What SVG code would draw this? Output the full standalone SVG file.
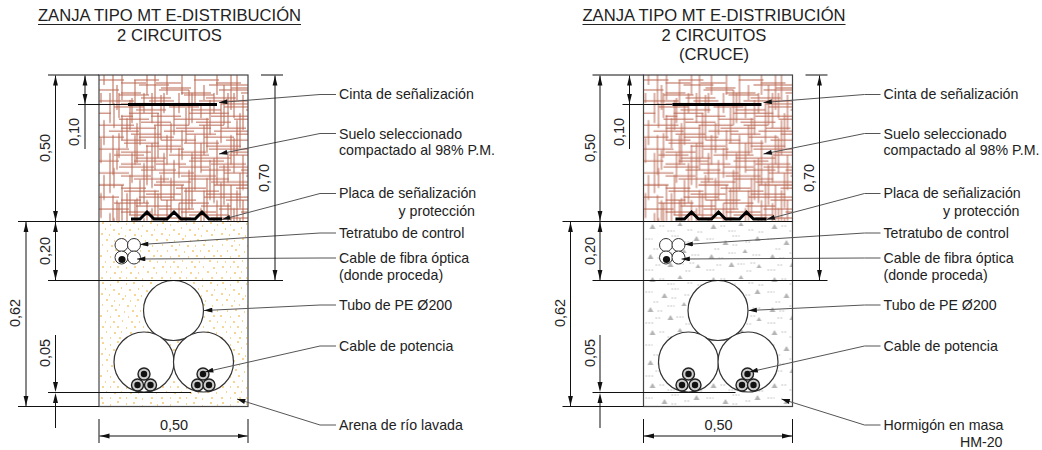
<svg xmlns="http://www.w3.org/2000/svg" width="1042" height="450" viewBox="0 0 1042 450">
<style>
text{font-family:"Liberation Sans",Arial,sans-serif;fill:#222}
.t{font-size:16.6px;text-anchor:middle}
.l{font-size:14.2px}
.r{text-anchor:end}
.d{font-size:14.5px;text-anchor:middle}
.dim{fill:none;stroke:#111;stroke-width:1}
.dima{fill:none;stroke:#111;stroke-width:1;marker-start:url(#da);marker-end:url(#da)}
.lead{fill:none;stroke:#555;stroke-width:1;marker-start:url(#la)}
.box{fill:none;stroke:#444;stroke-width:1.2}
.big{fill:#fff;stroke:#333;stroke-width:1.2}
.tet{fill:#fff;stroke:#333;stroke-width:1}
.cab{fill:#ccc;stroke:#222;stroke-width:1.4}
.core{fill:#111}
.thick{fill:none;stroke:#000;stroke-width:3}
.u{stroke:#222;stroke-width:1}
</style>
<defs>
<marker id="da" viewBox="0 0 10 6" refX="10" refY="3" markerUnits="userSpaceOnUse" markerWidth="10" markerHeight="6" orient="auto-start-reverse"><path d="M10 3L0 .6V5.400z" fill="#111"/></marker>
<marker id="la" viewBox="0 0 10 6" refX="10" refY="3" markerUnits="userSpaceOnUse" markerWidth="10" markerHeight="5" orient="auto-start-reverse"><path d="M10 3L0 0V6z" fill="#111"/></marker>
<path id="hv" fill="none" stroke="#b9644e" stroke-width="1" d="M5 0V10M5 45V70M5 100V125M14 0V30M14 60V100M14 120V146M18 10V35M18 75V95M18 125V146M23 0V25M23 40V65M23 110V146M31 25V55M31 100V140M36 5V30M36 60V90M36 125V146M41 30V70M41 105V130M48 0V20M48 70V110M48 125V146M56 0V30M56 50V95M56 115V140M62 20V65M62 100V125M68 0V20M68 60V90M68 125V146M75 30V60M75 85V125M83 0V20M83 55V85M83 110V146M90 15V50M90 95V135M96 0V30M96 60V115M105 10V25M105 50V80M105 115V146M111 25V60M111 85V125M118 0V20M118 65V110M118 125V146M125 10V50M125 90V130M132 0V35M132 60V90M132 110V146M138 0V25M138 45V80M138 115V146M144 20V55M144 80V115M144 125V146"/>
<path id="hh" fill="none" stroke="#b9644e" stroke-width="1" d="M0 5H25M35 5H60M95 5H120M40 10H70M110 10H149M0 15H20M60 15H90M120 15H149M20 20H50M85 20H115M0 26H35M50 26H75M100 26H149M15 32H45M70 32H100M125 32H149M0 38H12M30 38H60M90 38H130M20 44H50M75 44H110M135 44H149M0 50H35M55 50H90M100 50H125M10 56H40M65 56H95M115 56H149M0 62H25M40 62H75M105 62H135M25 68H60M85 68H120M0 74H30M60 74H85M110 74H149M15 80H45M70 80H110M130 80H149M0 86H20M35 86H65M90 86H125M20 92H55M80 92H110M120 92H149M0 98H30M60 98H95M125 98H149M35 104H70M90 104H130M0 110H25M55 110H85M115 110H149M25 116H60M85 116H120M0 122H20M40 122H75M105 122H149M15 128H50M80 128H110M0 134H30M60 134H95M120 134H149M30 140H70M90 140H130"/>
<pattern id="hatch" patternUnits="userSpaceOnUse" x="99" y="75" width="149" height="146.500">
<use href="#hv"/><use href="#hh"/>
<use href="#hv" transform="translate(-3 18)"/><use href="#hh" transform="translate(22 3)"/>
</pattern>
<path id="sd" fill="none" stroke="#efae2a" stroke-width="1.200" d="M3 2h2M11 4h1M18 1h2M27 3h1M34 2h2M43 5h1M51 2h2M58 4h1M6 8h1M14 9h2M22 7h1M30 9h2M39 8h1M47 10h2M55 9h1M2 13h2M10 14h1M19 13h2M26 15h1M35 14h2M42 15h1M52 14h2M7 19h2M15 20h1M23 18h2M31 20h1M38 19h2M46 20h1M57 19h2M3 24h1M12 25h2M20 24h1M28 25h2M36 25h1M44 24h2M53 25h1M8 30h1M16 29h2M25 31h1M33 30h2M41 30h1M49 30h2M58 30h1M1 35h2M11 36h1M19 35h2M29 36h1M37 35h2M45 36h1M54 35h2M6 41h1M14 41h2M23 40h1M32 41h2M40 41h1M50 40h2M58 41h1M3 46h2M11 46h1M18 46h2M27 47h1M35 46h2M44 46h1M54 47h2M7 51h1M15 52h2M22 51h1M31 52h2M39 52h1M48 51h2M57 52h1M2 57h2M11 57h1M20 57h2M27 57h1M36 57h2M43 58h1M52 57h2"/>
<pattern id="sand" patternUnits="userSpaceOnUse" x="99" y="221" width="60" height="60">
<use href="#sd"/>
</pattern>
<pattern id="conc" patternUnits="userSpaceOnUse" x="99" y="221" width="61" height="53">
<path fill="#b4b4b4" d="M6 8l3-5 3 5zM34 5l2.500-4 2.500 4zM50 20l3-5 3 5zM18 24l3-5 3 5zM38 32l2.500-4 2.500 4zM4 38l3-5 3 5zM24 46l3-5 3 5zM52 47l2.500-4 2.500 4z"/>
<path fill="none" stroke="#b0b0b0" stroke-width="1" stroke-dasharray="1.500 1.500" d="M16 5h5M44 9h6M24 10h7M2 18h7M28 15h7M41 21h5M54 11h5M10 28h5M24 32h7M48 34h8M14 37h6M33 43h7M2 49h8M42 50h5M28 24h6M46 42h5M12 44h6"/>
</pattern>
<g id="pipes">
<circle class="big" cx="173.500" cy="310.500" r="30"/>
<circle class="big" cx="144" cy="362" r="30"/>
<circle class="big" cx="203.500" cy="362" r="30"/>
<circle class="tet" cx="121.500" cy="245" r="6.500"/><circle class="tet" cx="134" cy="245" r="6.500"/><circle class="tet" cx="121.500" cy="257.500" r="6.500"/><circle class="tet" cx="134" cy="257.500" r="6.500"/>
<circle class="core" cx="122" cy="259.500" r="3.600"/>
<g><circle class="cab" cx="144" cy="374" r="6"/><circle class="core" cx="144" cy="374" r="3.200"/><circle class="cab" cx="137.500" cy="385" r="6"/><circle class="core" cx="137.500" cy="385" r="3.200"/><circle class="cab" cx="150.500" cy="385" r="6"/><circle class="core" cx="150.500" cy="385" r="3.200"/></g>
<g><circle class="cab" cx="203" cy="374" r="6"/><circle class="core" cx="203" cy="374" r="3.200"/><circle class="cab" cx="197.500" cy="385" r="6"/><circle class="core" cx="197.500" cy="385" r="3.200"/><circle class="cab" cx="209" cy="385" r="6"/><circle class="core" cx="209" cy="385" r="3.200"/></g>
</g>
<g id="tape">
<path d="M128 104.500H217" stroke="#000" stroke-width="3" fill="none"/>
<path class="thick" d="M131 219H140L147 212L154 219H167L174 212L181 219H195L202 212L209 219H222"/>
</g>
<g id="connectors-shape">
<path class="lead" d="M219 102.500L320 94.500H336"/>
<path class="lead" d="M219 154L320 133.500H336"/>
<path class="lead" d="M222 219.500L320 193.500H336"/>
<path class="lead" d="M140 244.500L320 233H336"/>
<path class="lead" d="M137 259L320 258H336"/>
<path class="lead" d="M204 310.500L320 305H336"/>
<path class="lead" d="M205 372L320 346H336"/>
<path class="lead" d="M237 399L320 425H336"/>
</g>
<g id="dims">
<path class="dim" d="M48 75H99M261 75H283M48 280.500H283M18 221.500H99M18 406.500H99M78 104.500H128M48 392.500H191"/>
<path class="dima" d="M55.500 75.500V221"/>
<path class="dima" d="M85 75.500V104"/>
<path class="dim" d="M85 104V149"/>
<path class="dima" d="M275 75.500V280"/>
<path class="dima" d="M55.500 222V280"/>
<path class="dima" d="M26 222V406"/>
<path class="dim" d="M55.500 335V382M55.500 403V428"/>
<path class="dim" d="M99 419V443M248 419V443"/>
<path class="dima" d="M99.500 436H247.500"/>
<path d="M55.500 392L53 382H58zM55.500 393L53 403H58z" fill="#111"/>
</g>
</defs>

<g id="left-section">
<rect x="99" y="75" width="149" height="146.500" fill="url(#hatch)"/>
<rect x="99" y="221.500" width="149" height="185" fill="url(#sand)"/>
<rect class="box" x="99" y="75" width="149" height="331.500"/>
<path class="dim" d="M99 221.500H248"/>
<use href="#pipes"/><use href="#tape"/>
</g>
<g id="left-connectors"><use href="#connectors-shape"/><use href="#dims"/></g>
<g id="left-dimension-labels">
<text class="d" transform="translate(50 148) rotate(-90)">0,50</text>
<text class="d" transform="translate(79 132) rotate(-90)">0,10</text>
<text class="d" transform="translate(269 178) rotate(-90)">0,70</text>
<text class="d" transform="translate(50 251) rotate(-90)">0,20</text>
<text class="d" transform="translate(20 313) rotate(-90)">0,62</text>
<text class="d" transform="translate(50 353) rotate(-90)">0,05</text>
<text class="d" x="174" y="430">0,50</text>
</g>
<g id="left-title">
<text class="t" x="169.500" y="21">ZANJA TIPO MT E-DISTRIBUCIÓN</text>
<path class="u" d="M38 24.500H301"/>
<text class="t" x="169.500" y="40.500">2 CIRCUITOS</text>
</g>
<g id="left-labels">
<g id="l-cinta"><text class="l" x="339" y="99">Cinta de señalización</text></g>
<g id="l-suelo"><text class="l" x="339" y="139">Suelo seleccionado</text><text class="l" x="339" y="155">compactado al 98% P.M.</text></g>
<g id="l-placa"><text class="l" x="339" y="198">Placa de señalización</text><text class="l r" x="475" y="216">y protección</text></g>
<g id="l-tetra"><text class="l" x="339" y="237.500">Tetratubo de control</text></g>
<g id="l-fibra"><text class="l" x="339" y="263">Cable de fibra óptica</text><text class="l" x="339" y="280">(donde proceda)</text></g>
<g id="l-tubo"><text class="l" x="339" y="310">Tubo de PE Ø200</text></g>
<g id="l-potencia"><text class="l" x="339" y="350.500">Cable de potencia</text></g>
<g id="l-arena"><text class="l" x="339" y="429.500">Arena de río lavada</text></g>
</g>

<g transform="translate(544.500 0)">
<g id="right-section">
<rect x="99" y="75" width="149" height="146.500" fill="url(#hatch)"/>
<rect x="99" y="221.500" width="149" height="185" fill="url(#conc)"/>
<rect class="box" x="99" y="75" width="149" height="331.500"/>
<path class="dim" d="M99 221.500H248"/>
<use href="#pipes"/><use href="#tape"/>
</g>
<g id="right-connectors"><use href="#connectors-shape"/><use href="#dims"/></g>
<g id="right-dimension-labels">
<text class="d" transform="translate(50 148) rotate(-90)">0,50</text>
<text class="d" transform="translate(79 132) rotate(-90)">0,10</text>
<text class="d" transform="translate(269 178) rotate(-90)">0,70</text>
<text class="d" transform="translate(50 251) rotate(-90)">0,20</text>
<text class="d" transform="translate(20 313) rotate(-90)">0,62</text>
<text class="d" transform="translate(50 353) rotate(-90)">0,05</text>
<text class="d" x="174" y="430">0,50</text>
</g>
<g id="right-title">
<text class="t" x="169.500" y="21">ZANJA TIPO MT E-DISTRIBUCIÓN</text>
<path class="u" d="M38 24.500H301"/>
<text class="t" x="169.500" y="40.500">2 CIRCUITOS</text>
<text class="t" x="169.500" y="60">(CRUCE)</text>
</g>
<g id="right-labels">
<g id="r-cinta"><text class="l" x="339" y="99">Cinta de señalización</text></g>
<g id="r-suelo"><text class="l" x="339" y="139">Suelo seleccionado</text><text class="l" x="339" y="155">compactado al 98% P.M.</text></g>
<g id="r-placa"><text class="l" x="339" y="198">Placa de señalización</text><text class="l r" x="475" y="216">y protección</text></g>
<g id="r-tetra"><text class="l" x="339" y="237.500">Tetratubo de control</text></g>
<g id="r-fibra"><text class="l" x="339" y="263">Cable de fibra óptica</text><text class="l" x="339" y="280">(donde proceda)</text></g>
<g id="r-tubo"><text class="l" x="339" y="310">Tubo de PE Ø200</text></g>
<g id="r-potencia"><text class="l" x="339" y="350.500">Cable de potencia</text></g>
<g id="r-hormigon"><text class="l" x="339" y="429.500">Hormigón en masa</text><text class="l r" x="458" y="447">HM-20</text></g>
</g>
</g>
</svg>
